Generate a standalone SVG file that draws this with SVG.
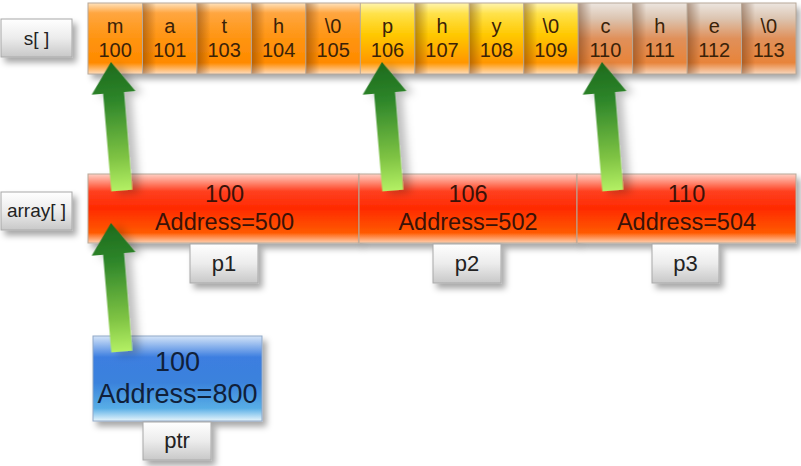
<svg xmlns="http://www.w3.org/2000/svg" width="801" height="466" viewBox="0 0 801 466">
<style>
.t{font-family:"Liberation Sans",Arial,sans-serif;text-anchor:middle;}
.cell{stroke:#b8a898;stroke-width:1;}
.ctext{font-size:20px;fill:#3a2208;}
.atext{font-size:23.5px;fill:#3a1208;}
.btext{font-size:27px;fill:#10203a;}
.lbl{fill:url(#gLbl);stroke:#a8a8a8;stroke-width:1;filter:url(#sh);}
.ltext{font-size:19px;fill:#222;}
.ptext{font-size:22px;fill:#222;}
.shade{fill:url(#gLeft);}
.arrow{fill:url(#gArrow);filter:url(#ash);}
</style>
<defs>
<filter id="sh" x="-20%" y="-20%" width="150%" height="160%">
<feDropShadow dx="4" dy="5" stdDeviation="3" flood-color="#000" flood-opacity="0.35"/>
</filter>
<filter id="ash" x="-50%" y="-20%" width="220%" height="150%">
<feDropShadow dx="7" dy="3" stdDeviation="4" flood-color="#000" flood-opacity="0.25"/>
</filter>
<linearGradient id="gOr" x1="0" y1="0" x2="0" y2="1">
<stop offset="0" stop-color="#ffe2bc"/>
<stop offset="0.14" stop-color="#ffa640"/>
<stop offset="0.5" stop-color="#ff9410"/>
<stop offset="0.84" stop-color="#ff8a00"/>
<stop offset="1" stop-color="#ffdcbc"/>
</linearGradient>
<linearGradient id="gYe" x1="0" y1="0" x2="0" y2="1">
<stop offset="0" stop-color="#fff4b0"/>
<stop offset="0.15" stop-color="#ffe24a"/>
<stop offset="0.45" stop-color="#ffc800"/>
<stop offset="0.84" stop-color="#ff9600"/>
<stop offset="1" stop-color="#ffdcb8"/>
</linearGradient>
<linearGradient id="gBr" x1="0" y1="0" x2="0" y2="1">
<stop offset="0" stop-color="#ece6e0"/>
<stop offset="0.22" stop-color="#dcc4b0"/>
<stop offset="0.5" stop-color="#e0905a"/>
<stop offset="0.84" stop-color="#e8843a"/>
<stop offset="1" stop-color="#f8d6bc"/>
</linearGradient>
<linearGradient id="gLeft" x1="0" y1="0" x2="1" y2="0">
<stop offset="0" stop-color="#502000" stop-opacity="0.4"/>
<stop offset="0.25" stop-color="#502000" stop-opacity="0"/>
</linearGradient>
<linearGradient id="gRed" x1="0" y1="0" x2="0" y2="1">
<stop offset="0" stop-color="#ffd0c4"/>
<stop offset="0.25" stop-color="#ff4020"/>
<stop offset="0.5" stop-color="#ff2a00"/>
<stop offset="0.85" stop-color="#ff5a00"/>
<stop offset="1" stop-color="#ffd0b0"/>
</linearGradient>
<linearGradient id="gBlue" x1="0" y1="0" x2="0" y2="1">
<stop offset="0" stop-color="#d4e4f8"/>
<stop offset="0.25" stop-color="#3c7ee0"/>
<stop offset="0.55" stop-color="#3a82dc"/>
<stop offset="0.85" stop-color="#58aee6"/>
<stop offset="1" stop-color="#e8f6fc"/>
</linearGradient>
<linearGradient id="gLbl" x1="0" y1="0" x2="0" y2="1">
<stop offset="0" stop-color="#ffffff"/>
<stop offset="0.5" stop-color="#ececec"/>
<stop offset="1" stop-color="#c8c8c8"/>
</linearGradient>
<linearGradient id="gArrow" gradientUnits="userSpaceOnUse" x1="0" y1="0" x2="0" y2="129">
<stop offset="0" stop-color="#1c6a1c"/>
<stop offset="0.3" stop-color="#2e862a"/>
<stop offset="0.75" stop-color="#80c444"/>
<stop offset="1" stop-color="#b4f064"/>
</linearGradient>
<polygon id="arr" points="0,0 22,31 10.5,31 10.5,129 -10.5,129 -10.5,31 -22,31"/>
</defs>
<rect width="801" height="466" fill="#ffffff"/>

<g id="s_label">
<rect class="lbl" x="1" y="19" width="71" height="38"/>
<text class="t ltext" x="36.5" y="45">s[ ]</text>
</g>

<g id="s_array">
<g filter="url(#sh)">
<rect x="88" y="3" width="272.3" height="71" fill="url(#gOr)"/>
<rect x="360.3" y="3" width="217.8" height="71" fill="url(#gYe)"/>
<rect x="578.1" y="3" width="217.9" height="71" fill="url(#gBr)"/>
</g>
<rect class="shade" x="142.5" y="3" width="54.5" height="71"/>
<rect class="shade" x="196.9" y="3" width="54.5" height="71"/>
<rect class="shade" x="251.4" y="3" width="54.5" height="71"/>
<rect class="shade" x="305.8" y="3" width="54.5" height="71"/>
<rect class="shade" x="414.8" y="3" width="54.5" height="71"/>
<rect class="shade" x="469.2" y="3" width="54.5" height="71"/>
<rect class="shade" x="523.7" y="3" width="54.5" height="71"/>
<rect class="shade" x="578.1" y="3" width="54.5" height="71"/>
<rect class="shade" x="632.6" y="3" width="54.5" height="71"/>
<rect class="shade" x="687.1" y="3" width="54.5" height="71"/>
<rect class="shade" x="741.5" y="3" width="54.5" height="71"/>
<g class="cell" fill="none">
<rect x="88" y="3" width="708" height="71"/>
<path d="M142.5 3V74M196.9 3V74M251.4 3V74M305.8 3V74M360.3 3V74M414.8 3V74M469.2 3V74M523.7 3V74M578.1 3V74M632.6 3V74M687.1 3V74M741.5 3V74"/>
</g>
<g class="t ctext">
<text x="115.2" y="33">m</text><text x="115.2" y="57">100</text>
<text x="169.7" y="33">a</text><text x="169.7" y="57">101</text>
<text x="224.2" y="33">t</text><text x="224.2" y="57">103</text>
<text x="278.6" y="33">h</text><text x="278.6" y="57">104</text>
<text x="333.1" y="33">\0</text><text x="333.1" y="57">105</text>
<text x="387.5" y="33">p</text><text x="387.5" y="57">106</text>
<text x="442" y="33">h</text><text x="442" y="57">107</text>
<text x="496.5" y="33">y</text><text x="496.5" y="57">108</text>
<text x="550.9" y="33">\0</text><text x="550.9" y="57">109</text>
<text x="605.4" y="33">c</text><text x="605.4" y="57">110</text>
<text x="659.8" y="33">h</text><text x="659.8" y="57">111</text>
<text x="714.3" y="33">e</text><text x="714.3" y="57">112</text>
<text x="768.8" y="33">\0</text><text x="768.8" y="57">113</text>
</g>
</g>

<g id="array_label">
<rect class="lbl" x="1" y="192" width="71" height="38"/>
<text class="t ltext" x="36.5" y="217">array[ ]</text>
</g>

<g id="array_p1">
<rect x="88" y="174" width="271" height="69" fill="url(#gRed)" class="cell" filter="url(#sh)"/>
<text class="t atext" x="224.5" y="202">100</text>
<text class="t atext" x="224.5" y="230">Address=500</text>
</g>
<g id="array_p2">
<rect x="359" y="174" width="218" height="69" fill="url(#gRed)" class="cell" filter="url(#sh)"/>
<text class="t atext" x="468" y="202">106</text>
<text class="t atext" x="468" y="230">Address=502</text>
</g>
<g id="array_p3">
<rect x="577" y="174" width="219" height="69" fill="url(#gRed)" class="cell" filter="url(#sh)"/>
<text class="t atext" x="686.5" y="202">110</text>
<text class="t atext" x="686.5" y="230">Address=504</text>
</g>

<g id="p1">
<rect class="lbl" x="190" y="244" width="68" height="39"/>
<text class="t ptext" x="224" y="271">p1</text>
</g>
<g id="p2">
<rect class="lbl" x="433" y="244" width="68" height="39"/>
<text class="t ptext" x="467" y="271">p2</text>
</g>
<g id="p3">
<rect class="lbl" x="652" y="244" width="67" height="39"/>
<text class="t ptext" x="685.5" y="271">p3</text>
</g>

<g id="ptr_box">
<rect x="93" y="336" width="169" height="85" fill="url(#gBlue)" stroke="#90a8c8" stroke-width="1" filter="url(#sh)"/>
<text class="t btext" x="177.5" y="371">100</text>
<text class="t btext" x="177.5" y="403">Address=800</text>
</g>
<g id="ptr">
<rect class="lbl" x="143" y="422" width="68" height="38"/>
<text class="t ptext" x="177" y="448">ptr</text>
</g>

<g id="connectors">
<use href="#arr" class="arrow" transform="translate(111 62) rotate(-4.8)"/>
<use href="#arr" class="arrow" transform="translate(382 62) rotate(-4.8)"/>
<use href="#arr" class="arrow" transform="translate(602 62) rotate(-4.8)"/>
<use href="#arr" class="arrow" transform="translate(111 223) rotate(-4.8)"/>
</g>
</svg>
